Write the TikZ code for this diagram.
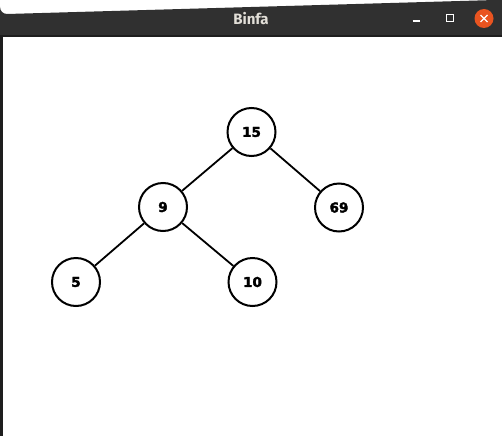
\documentclass[tikz,border=0pt]{standalone}
\usepackage{fontspec}
\newfontfamily\nodefont[FakeBold=2.5]{DejaVu Sans Bold}
\newfontfamily\titlefont{Fira Sans}
\definecolor{barcol}{HTML}{303030}
\definecolor{barline}{HTML}{1E1E1E}
\definecolor{titletext}{HTML}{E2DFD8}
\definecolor{closecol}{HTML}{E95420}
\begin{document}
\begin{tikzpicture}[x=1pt,y=-1pt,
  treenode/.style={circle,draw=black,line width=2pt,minimum size=48pt,inner sep=0pt,
    font=\nodefont\fontsize{13.5}{14}\selectfont},
  edge/.style={draw=black,line width=1.8pt}]
\useasboundingbox (0,0) rectangle (502,436);
\fill[white] (0,0) rectangle (502,436);
% title bar
\fill[barcol] (0,36) -- (0,7) arc[start angle=180,end angle=90,radius=7] -- (495,0) arc[start angle=90,end angle=0,radius=7] -- (502,36) -- cycle;
\fill[barline] (0,35) rectangle (502,37);
\fill[barline] (0,36) rectangle (2.5,436);
\node[text=titletext,font=\titlefont\bfseries\fontsize{15}{17}\selectfont] (title) at (251,18.5) {Binfa};
\draw[white,line width=1.2pt] (412.5,21) -- (420,21);
\draw[white,line width=1.2pt] (446.5,14.5) rectangle (453.5,21.5);
\fill[closecol] (484,18.5) circle[radius=9.5];
\draw[white,line width=1.3pt] (480.5,15) -- (487.5,22) (487.5,15) -- (480.5,22);
% tree
\node[treenode] (n15) at (251.5,132) {15};
\node[treenode] (n9) at (163,207) {9};
\node[treenode] (n69) at (339,207.5) {69};
\node[treenode] (n5) at (76,282) {5};
\node[treenode] (n10) at (252.5,282) {10};
\draw[edge] (n15) -- (n9);
\draw[edge] (n15) -- (n69);
\draw[edge] (n9) -- (n5);
\draw[edge] (n9) -- (n10);
\end{tikzpicture}
\end{document}
